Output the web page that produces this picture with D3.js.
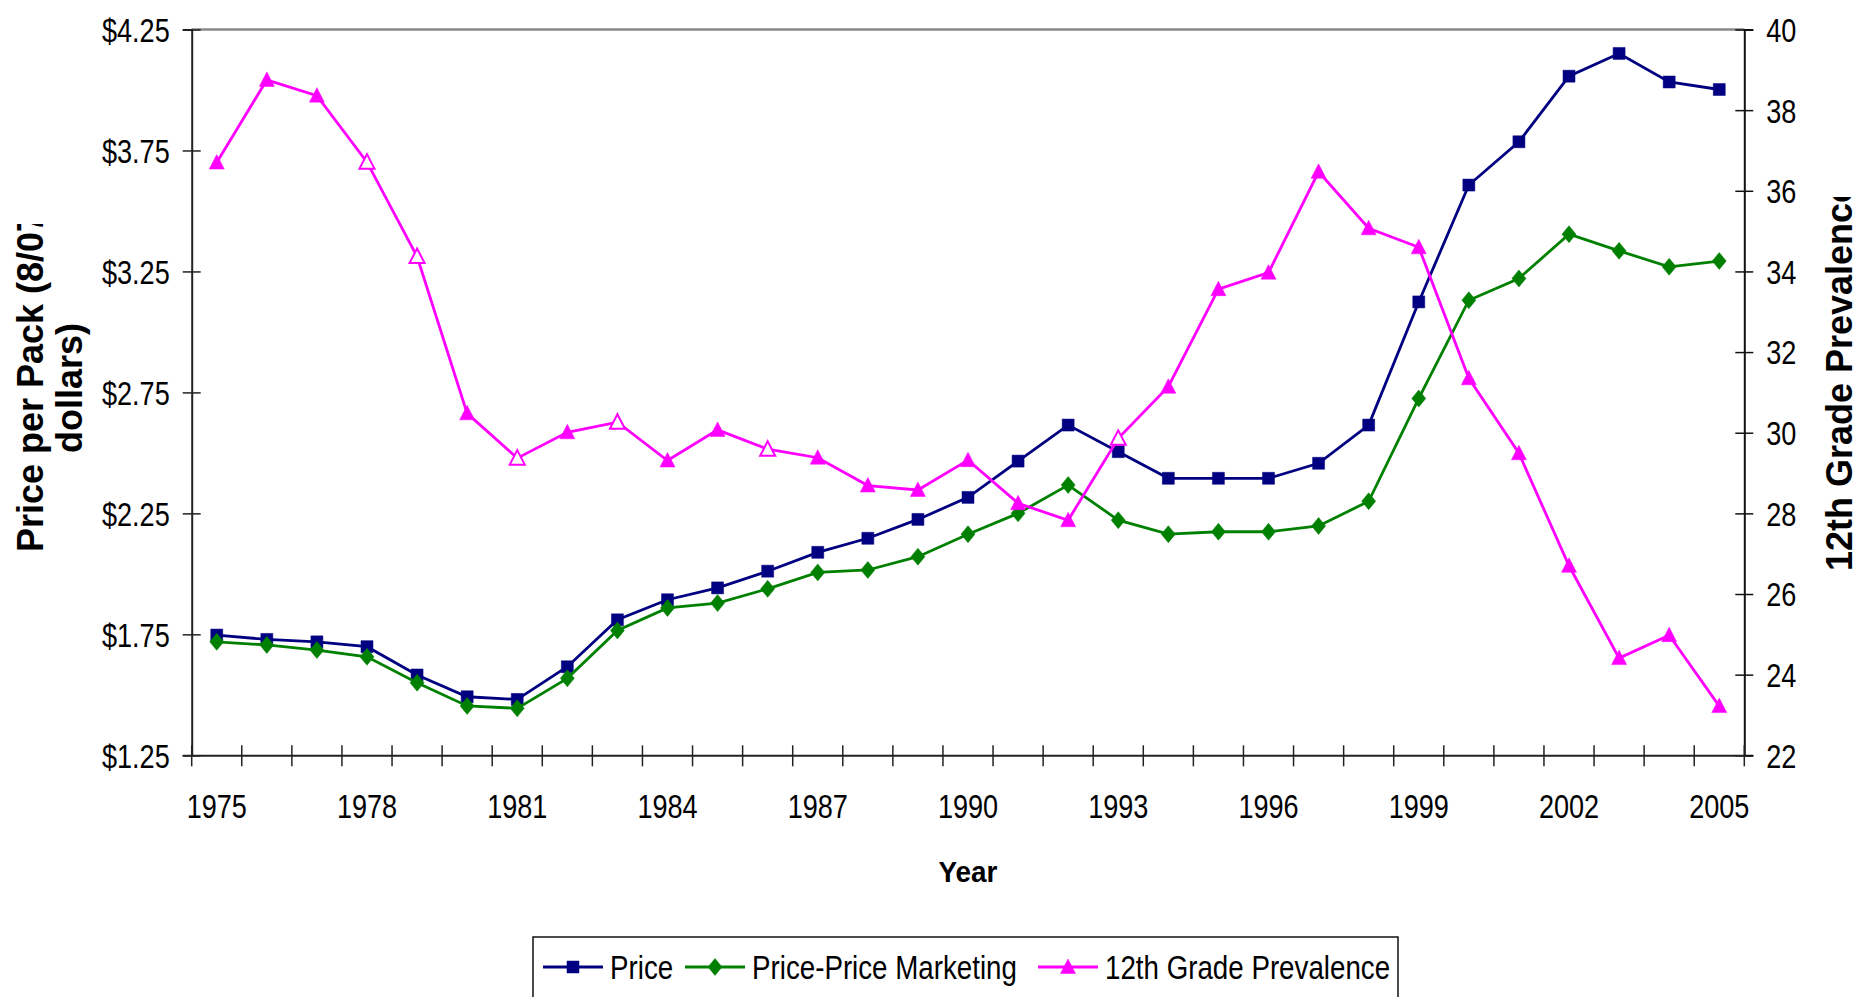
<!DOCTYPE html>
<html>
<head>
<meta charset="utf-8">
<script src="https://cdn.jsdelivr.net/npm/d3@7"></script>
<style>
  body { margin: 0; background: #fff; }
  svg { display: block; font-family: "Liberation Sans", Arial, sans-serif; }
</style>
</head>
<body>
<svg id="chart" width="1858" height="997"></svg>
<script>
const years = d3.range(1975, 2006);

const price = [1.747, 1.729, 1.719, 1.699, 1.582, 1.492, 1.481, 1.616, 1.81, 1.893,
  1.942, 2.011, 2.089, 2.147, 2.225, 2.316, 2.466, 2.615, 2.505, 2.395,
  2.395, 2.395, 2.457, 2.615, 3.124, 3.607, 3.786, 4.057, 4.151, 4.033, 4.002];

const priceMarketing = [1.719, 1.706, 1.685, 1.657, 1.55, 1.454, 1.444, 1.568, 1.766, 1.859,
  1.879, 1.938, 2.006, 2.016, 2.071, 2.164, 2.25, 2.367, 2.222, 2.164,
  2.174, 2.174, 2.198, 2.30, 2.725, 3.131, 3.221, 3.404, 3.335, 3.269, 3.293];

const prevalence = [36.70, 38.75, 38.36, 36.71, 34.37, 30.48, 29.37, 30.01, 30.26, 29.31,
  30.07, 29.59, 29.38, 28.69, 28.58, 29.32, 28.25, 27.83, 29.86, 31.14,
  33.56, 33.97, 36.47, 35.07, 34.60, 31.35, 29.49, 26.70, 24.41, 24.98, 23.22];

// years drawn with hollow triangles in the original
const prevalenceOpen = [1978, 1979, 1981, 1983, 1986, 1993];

const priceTicks = [1.25, 1.75, 2.25, 2.75, 3.25, 3.75, 4.25];
const prevTicks = [22, 24, 26, 28, 30, 32, 34, 36, 38, 40];
const yearLabels = years.filter(y => (y - 1975) % 3 === 0);

const svg = d3.select("#chart");
const plotLeft = 191.7, plotRight = 1744.3, plotTop = 29.5, plotBottom = 755.3;

const x = d3.scaleBand().domain(years).range([plotLeft, plotRight]);
const cx = d => x(d) + x.bandwidth() / 2;
const yL = d3.scaleLinear().domain([1.25, 4.25]).range([plotBottom, plotTop]);
const yR = d3.scaleLinear().domain([22, 40]).range([plotBottom, plotTop]);

// squeeze regular text to look like the narrow Excel font
function squeeze(sel, k) {
  sel.each(function() {
    const w = this.getComputedTextLength();
    d3.select(this).attr("textLength", w * k).attr("lengthAdjust", "spacingAndGlyphs");
  });
}

// plot area top border
svg.append("line")
  .attr("x1", plotLeft).attr("x2", plotRight).attr("y1", plotTop).attr("y2", plotTop)
  .attr("stroke", "#888").attr("stroke-width", 2.5);

// left axis
const gL = svg.append("g").attr("transform", `translate(${plotLeft},0)`)
  .call(d3.axisLeft(yL).tickValues(priceTicks).tickSize(9).tickPadding(13)
    .tickFormat(d => "$" + d3.format(".2f")(d)));
gL.select(".domain").attr("stroke", "#222").attr("stroke-width", 2);
gL.selectAll(".tick line").attr("x1", 9).attr("stroke", "#222").attr("stroke-width", 1.5);
gL.selectAll("text").attr("font-size", 33).attr("fill", "#000").attr("dy", "0.36em");

// right axis
const gR = svg.append("g").attr("transform", `translate(${plotRight},0)`)
  .call(d3.axisRight(yR).tickValues(prevTicks).tickSize(9).tickPadding(13));
gR.select(".domain").attr("stroke", "#111").attr("stroke-width", 2);
gR.selectAll(".tick line").attr("x1", -9).attr("stroke", "#111").attr("stroke-width", 1.5);
gR.selectAll("text").attr("font-size", 33).attr("fill", "#000").attr("dy", "0.36em");

// bottom axis: labels every 3 years, ticks at category boundaries
const gB = svg.append("g").attr("transform", `translate(0,${plotBottom})`)
  .call(d3.axisBottom(x).tickValues(yearLabels).tickSize(0));
gB.select(".domain").attr("stroke", "#222").attr("stroke-width", 2);
gB.selectAll("text").attr("font-size", 33).attr("fill", "#000").attr("y", 63).attr("dy", 0);
const bounds = years.map(d => x(d)).concat([plotRight]);
gB.selectAll(".bound").data(bounds).enter().append("line")
  .attr("x1", d => d).attr("x2", d => d).attr("y1", -10).attr("y2", 11)
  .attr("stroke", "#222").attr("stroke-width", 1.5);

squeeze(svg.selectAll(".tick text"), 0.82);

// series
const series = [
  { name: "Price", values: price, y: yL, color: "#000080", marker: "square" },
  { name: "Price-Price Marketing", values: priceMarketing, y: yL, color: "#008000", marker: "diamond" },
  { name: "12th Grade Prevalence", values: prevalence, y: yR, color: "#ff00ff", marker: "triangle" }
];

const markerPath = {
  square: "M-6,-6H6V6H-6Z",
  diamond: "M0,-8.5L7,0L0,8.5L-7,0Z",
  triangle: "M0,-8L7.5,6.5H-7.5Z"
};

series.forEach(s => {
  const line = d3.line().x((d, i) => cx(years[i])).y(d => s.y(d));
  svg.append("path").datum(s.values)
    .attr("d", line).attr("fill", "none")
    .attr("stroke", s.color).attr("stroke-width", 2.8);
  svg.append("g").selectAll("path").data(s.values).enter().append("path")
    .attr("transform", (d, i) => `translate(${cx(years[i])},${s.y(d)})`)
    .attr("d", markerPath[s.marker])
    .attr("fill", (d, i) => s.marker === "triangle" && prevalenceOpen.includes(years[i]) ? "#fff" : s.color)
    .attr("stroke", s.color).attr("stroke-width", (d, i) => s.marker === "triangle" && prevalenceOpen.includes(years[i]) ? 2 : 0.5);
});

// axis titles
svg.append("text").attr("x", 968).attr("y", 882).attr("text-anchor", "middle")
  .attr("font-size", 30).attr("font-weight", "bold").text("Year")
  .call(squeeze, 0.93);

svg.append("clipPath").attr("id", "clipL")
  .append("rect").attr("x", 0).attr("y", 224).attr("width", 120).attr("height", 700);
const tl = svg.append("g").attr("clip-path", "url(#clipL)");
tl.append("text").attr("transform", "translate(43,382) rotate(-90)")
  .attr("text-anchor", "middle").attr("font-size", 36).attr("font-weight", "bold")
  .text("Price per Pack (8/07");
tl.append("text").attr("transform", "translate(82,388) rotate(-90)")
  .attr("text-anchor", "middle").attr("font-size", 36).attr("font-weight", "bold")
  .text("dollars)");

svg.append("clipPath").attr("id", "clipR")
  .append("rect").attr("x", 1790).attr("y", 197).attr("width", 80).attr("height", 700);
svg.append("g").attr("clip-path", "url(#clipR)")
  .append("text").attr("transform", "translate(1852,377) rotate(-90)")
  .attr("text-anchor", "middle").attr("font-size", 36).attr("font-weight", "bold")
  .text("12th Grade Prevalence");

// legend
const lg = svg.append("g");
lg.append("rect").attr("x", 533).attr("y", 937).attr("width", 865).attr("height", 80)
  .attr("fill", "#fff").attr("stroke", "#111").attr("stroke-width", 1.5);
const legendX = [543, 685, 1038];
series.forEach((s, i) => {
  const g = lg.append("g").attr("transform", `translate(${legendX[i]},967)`);
  g.append("line").attr("x1", 0).attr("x2", 60).attr("stroke", s.color).attr("stroke-width", 2.8);
  g.append("path").attr("transform", "translate(30,0)").attr("d", markerPath[s.marker])
    .attr("fill", s.color).attr("stroke", s.color).attr("stroke-width", 0.5);
  g.append("text").attr("x", 67).attr("y", 12).attr("font-size", 33).attr("fill", "#000")
    .text(s.name).call(squeeze, 0.84);
});
</script>
</body>
</html>
